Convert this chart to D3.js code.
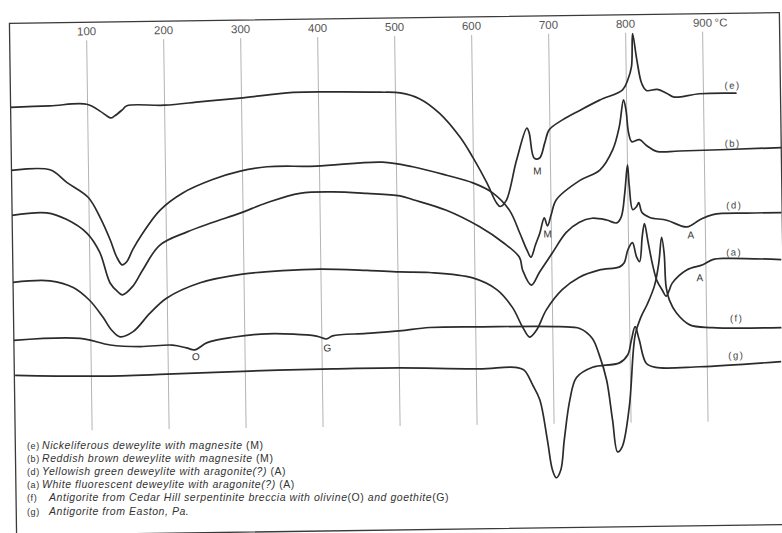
<!DOCTYPE html>
<html>
<head>
<meta charset="utf-8">
<title>DTA curves of deweylite and antigorite</title>
<script src="https://d3js.org/d3.v7.min.js"></script>
<style>
  body { margin: 0; background: #fff; }
  svg { display: block; font-family: "Liberation Sans", Arial, sans-serif; }
  .frame { fill: none; stroke: #3a3a3a; stroke-width: 1.3; }
  .grid { stroke: #a0a0a0; stroke-width: 0.8; }
  .curve { fill: none; stroke: #2b2b2b; stroke-width: 1.7; stroke-linejoin: round; }
  .tick { font-size: 11.5px; fill: #555; text-anchor: middle; }
  .note { font-size: 10px; fill: #333; text-anchor: middle; }
  .clabel { font-size: 9.5px; fill: #444; text-anchor: middle; letter-spacing: 1.5px; }
  .legcode { font-size: 9px; fill: #333; letter-spacing: 0.6px; }
  .legend { font-size: 10.5px; fill: #333; letter-spacing: 0.55px; }
</style>
</head>
<body>
<svg width="782" height="533"></svg>
<script>
// temperature ticks (°C)
const tickTemps = [100, 200, 300, 400, 500, 600, 700, 800, 900];

// curves: [temperature °C, deflection (arbitrary units, up = exothermic)]
const curveE = [[0,42.8],[51,42.9],[99,43.0],[116,42.3],[125,41.8],[130,41.6],[135,41.8],[145,42.4],[151,42.8],
  [200,42.8],[248,43.1],[298,43.4],[367,43.9],[419,43.9],[480,43.8],[506,43.7],[531,43.1],[557,41.6],[583,39.2],
  [599,37.2],[617,34.6],[629,32.6],[634,32.2],[642,32.8],[656,36.8],[670,40.0],[673,39.5],[679,37.0],[686,37.0],
  [693,38.5],[699,39.8],[717,40.8],[739,41.7],[765,42.7],[795,43.7],[802,44.7],[807,46.0],[809,49.3],[814,46.7],
  [820,44.3],[826,43.6],[840,43.7],[852,43.3],[862,42.9],[895,43.2],[943,43.2]];
const curveB = [[0,36.5],[50,36.5],[72,35.2],[99,33.7],[114,31.7],[127,29.4],[135,27.7],[142,26.9],[148,27.2],
  [156,28.4],[169,30.0],[192,32.3],[222,34.0],[261,35.3],[297,36.1],[332,36.5],[396,36.5],[482,36.8],[521,36.3],
  [565,35.4],[599,34.6],[624,33.6],[646,31.8],[659,29.5],[668,27.8],[673,27.1],[679,28.3],[685,29.5],[691,31.0],
  [695,30.2],[700,31.3],[707,32.8],[738,34.7],[764,35.7],[781,37.7],[790,40.0],[796,42.7],[799,41.7],[802,39.4],
  [806,38.5],[816,38.7],[825,38.1],[838,37.5],[868,37.5],[1000,37.7]];
const curveD = [[0,32.0],[45,32.2],[71,31.5],[97,30.1],[113,28.2],[126,25.1],[136,24.2],[142,23.9],[155,24.7],
  [169,26.4],[191,28.8],[227,30.1],[260,31.0],[296,31.9],[331,32.9],[374,33.8],[417,33.9],[461,33.7],[504,33.4],
  [521,33.0],[564,31.9],[607,30.2],[637,28.6],[658,27.1],[662,25.8],[673,24.3],[684,25.6],[701,27.5],[719,29.5],
  [736,30.5],[753,30.9],[772,30.7],[785,30.4],[791,31.0],[796,33.4],[800,36.2],[802,34.0],[806,31.7],[811,32.0],
  [814,32.4],[818,31.4],[828,30.9],[850,30.6],[876,29.9],[893,30.6],[910,31.1],[954,31.2],[999,31.2]];
const curveA = [[0,25.3],[48,25.4],[78,24.7],[99,23.4],[116,21.7],[127,20.4],[138,19.7],[155,20.2],[177,22.0],
  [199,23.5],[243,25.0],[298,25.8],[350,26.1],[399,26.2],[460,26.0],[502,25.8],[541,25.7],[597,25.1],[628,23.9],
  [648,22.1],[661,20.1],[670,19.1],[679,19.8],[692,21.8],[713,23.8],[735,25.0],[761,25.7],[788,26.0],[794,26.4],
  [799,27.7],[805,28.4],[810,27.0],[814,26.5],[818,29.1],[821,30.3],[825,28.6],[831,26.1],[836,24.6],[843,23.6],
  [848,23.0],[852,23.6],[856,24.3],[875,25.6],[896,26.1],[909,26.6],[927,26.7],[998,26.5]];
const curveF = [[0,19.5],[86,19.6],[125,18.9],[164,18.7],[206,18.8],[224,18.5],[235,18.3],[251,19.0],[284,19.5],
  [329,19.8],[393,19.5],[406,19.2],[414,19.5],[458,19.7],[501,19.9],[540,20.2],[605,20.2],[709,20.1],[735,19.9],
  [751,18.9],[760,17.2],[769,14.7],[776,10.7],[782,7.5],[788,8.0],[798,12.0],[807,19.2],[815,21.0],[823,22.2],
  [833,24.1],[839,26.4],[843,28.9],[846,27.3],[848,23.9],[852,22.6],[861,21.3],[878,20.1],[907,19.8],[997,19.7]];
const curveG = [[1,16.0],[111,15.8],[198,15.9],[306,16.1],[414,16.2],[500,16.2],[604,16.0],[650,16.1],[662,15.8],
  [673,14.3],[682,12.8],[691,8.8],[697,5.8],[702,5.0],[708,5.8],[713,8.8],[721,12.8],[730,15.0],[751,16.0],
  [786,16.4],[797,17.2],[802,18.7],[807,20.0],[812,18.7],[821,16.3],[833,15.9],[890,15.9],[996,16.3]];

const curves = [curveE, curveB, curveD, curveA, curveF, curveG];
const curveCodes = ["(e)", "(b)", "(d)", "(a)", "(f)", "(g)"];
const curveLabelTemp = [938, 937, 938, 937, 939, 938];
const curveLabelDef = [44.0, 38.2, 32.0, 27.3, 20.7, 17.0];

// peak annotations
const noteText = ["M", "M", "A", "A", "O", "G"];
const noteTemp = [683, 695, 881, 892, 236, 407];
const noteDef = [35.7, 29.4, 29.1, 24.8, 17.6, 18.3];

// legend: [text, italic]
const legendText = [
  [["Nickeliferous deweylite with magnesite", true], [" (M)", false]],
  [["Reddish brown deweylite with magnesite", true], [" (M)", false]],
  [["Yellowish green deweylite with aragonite(?)", true], [" (A)", false]],
  [["White fluorescent deweylite with aragonite(?)", true], [" (A)", false]],
  [["Antigorite from Cedar Hill serpentinite breccia with olivine", true], ["(O)", false], [" and goethite", true], ["(G)", false]],
  [["Antigorite from Easton, Pa.", true]]
];

const svg = d3.select("svg");
// the scanned sheet sits slightly askew
const g = svg.append("g").attr("transform", "rotate(-0.8, 395, 276)");

const x = d3.scaleLinear().domain([0, 1000]).range([13, 783]);
const y = d3.scaleLinear().domain([0, 51]).range([530, 20]);

g.append("rect").attr("class", "frame")
  .attr("x", x(0)).attr("y", 18)
  .attr("width", x(1000) - x(0)).attr("height", 512);

g.selectAll(".grid").data(tickTemps).enter().append("line")
  .attr("class", "grid")
  .attr("x1", d => x(d)).attr("x2", d => x(d))
  .attr("y1", 36).attr("y2", 426);

g.selectAll(".tick").data(tickTemps).enter().append("text")
  .attr("class", "tick")
  .attr("x", d => x(d)).attr("y", 31)
  .text(d => d);
g.append("text").attr("class", "tick").style("text-anchor", "start")
  .attr("x", x(900) + 12).attr("y", 31).text("°C");

const line = d3.line()
  .x(d => x(d[0])).y(d => y(d[1]))
  .curve(d3.curveCatmullRom.alpha(0.5));

g.selectAll(".curve").data(curves).enter().append("path")
  .attr("class", "curve")
  .attr("d", line);

g.selectAll(".clabel").data(curveCodes).enter().append("text")
  .attr("class", "clabel")
  .attr("x", (d, i) => x(curveLabelTemp[i]))
  .attr("y", (d, i) => y(curveLabelDef[i]))
  .attr("dy", "0.35em")
  .text(d => d);

g.selectAll(".note").data(noteText).enter().append("text")
  .attr("class", "note")
  .attr("x", (d, i) => x(noteTemp[i]))
  .attr("y", (d, i) => y(noteDef[i]))
  .attr("dy", "0.35em")
  .text(d => d);

// legend lettered level under the plot; the last two lines sit a little further in
const legendIndent = [0, 0, 0, 0, 7, 7];

const leg = svg.selectAll(".legrow").data(legendText).enter().append("g")
  .attr("class", "legrow")
  .attr("transform", (d, i) => "translate(0," + (448.5 + i * 13.2) + ")");

leg.append("text").attr("class", "legcode")
  .attr("x", 27).text((d, i) => curveCodes[i]);

leg.append("text").attr("class", "legend")
  .attr("x", (d, i) => 42 + legendIndent[i])
  .selectAll("tspan").data(d => d).enter().append("tspan")
  .style("font-style", d => d[1] ? "italic" : "normal")
  .text(d => d[0]);
</script>
</body>
</html>
